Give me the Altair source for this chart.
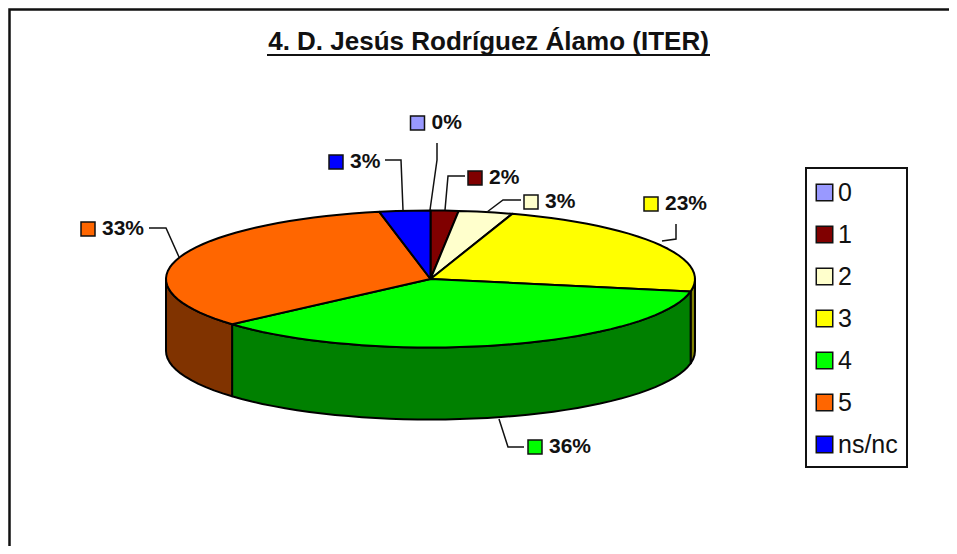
import math
import altair as alt

# ---- chart values ----
categories = ["0", "1", "2", "3", "4", "5", "ns/nc"]
shares = [0.0, 1.7, 3.3, 22.9, 35.6, 33.4, 3.1]
top_colors = ["#9999ff", "#800000", "#ffffcc", "#ffff00", "#00ff00", "#ff6600", "#0000ff"]
wall_colors = ["#4d4d80", "#400000", "#808066", "#808000", "#008000", "#803300", "#000080"]
title_text = "4. D. Jesús Rodríguez Álamo (ITER)"

# ---- layout (page pixels minus the 8px margin) ----
W, H = 941, 538
CX, CY, RX, RY, DEPTH = 422.5, 271.0, 264.5, 68.5, 72.0
FONT = "Liberation Sans"
label_pos = [(409.5, 115), (467, 170), (523, 194), (643, 196), (527, 439), (80, 221), (328, 154)]
leader_paths = [
    [(429, 135), (429, 152), (422, 202)],
    [(457, 168), (440, 168), (437, 202)],
    [(513, 192), (495, 192), (479, 204)],
    [(668, 216), (668, 231), (654, 233)],
    [(516, 439), (500, 439), (491, 411)],
    [(141, 220), (158, 220), (171, 249)],
    [(377, 152), (393, 152), (395, 202)],
]


def ellipse_pt(deg, dy=0.0):
    a = math.radians(deg)
    return [round(CX + RX * math.sin(a), 2), round(CY - RY * math.cos(a) + dy, 2)]


def arc_pts(a0, a1, dy=0.0):
    n = max(1, int(abs(a1 - a0) / 3))
    return [ellipse_pt(a0 + (a1 - a0) * i / n, dy) for i in range(n + 1)]


tops, walls, cum = [], [], 0.0
for cat, share, wall in zip(categories, shares, wall_colors):
    a0 = cum * 3.6
    a1 = (cum + share) * 3.6
    cum += share
    ring = [[CX, CY]] + arc_pts(a0, a1) + [[CX, CY]]
    tops.append({"type": "Feature", "properties": {"cat": cat},
                 "geometry": {"type": "Polygon", "coordinates": [ring]}})
    w0, w1 = max(a0, 90), min(a1, 270)
    if w1 > w0:
        upper = arc_pts(w0, w1)
        lower = arc_pts(w1, w0, DEPTH)
        walls.append((wall, {"type": "Feature", "properties": {"cat": cat},
                             "geometry": {"type": "Polygon", "coordinates": [upper + lower + [upper[0]]]}}))

projection = dict(type="identity", scale=1, translate=[0, 0])
color_scale = alt.Scale(domain=categories, range=top_colors)
legend_spec = alt.Legend(
    title=" ", titleFontSize=1, titlePadding=2,
    orient="none", legendX=798, legendY=160,
    fillColor="white", strokeColor="#111111", padding=9,
    symbolType="square", symbolSize=272, symbolStrokeColor="#111111", symbolStrokeWidth=1.5,
    symbolOffset=-3,
    labelFont=FONT, labelFontSize=25, labelColor="#111111", labelOffset=1,
    rowPadding=16, labelLimit=200,
)

wall_layers = [
    alt.Chart(alt.Data(values=[feature])).mark_geoshape(
        fill=colour, stroke="black", strokeWidth=2, strokeJoin="round"
    ).project(**projection)
    for colour, feature in walls
]

top_layer = alt.Chart(alt.Data(values=tops)).mark_geoshape(
    stroke="black", strokeWidth=2, strokeJoin="round"
).encode(
    fill=alt.Fill("properties.cat:N", scale=color_scale, legend=legend_spec)
).project(**projection)

label_rows = [
    {"cat": c, "text": f"{round(s)}%", "x": p[0], "y": p[1], "tx": p[0] + 14}
    for c, s, p in zip(categories, shares, label_pos)
]
label_data = alt.Data(values=label_rows)
squares = alt.Chart(label_data).mark_square(
    size=196, stroke="#111111", strokeWidth=1.5, opacity=1
).encode(
    x=alt.X("x:Q", scale=None, axis=None),
    y=alt.Y("y:Q", scale=None, axis=None),
    fill=alt.Fill("cat:N", scale=color_scale, legend=legend_spec),
)
texts = alt.Chart(label_data).mark_text(
    font=FONT, fontWeight="bold", fontSize=21, align="left", baseline="middle", color="#111111"
).encode(
    x=alt.X("tx:Q", scale=None, axis=None),
    y=alt.Y("y:Q", scale=None, axis=None),
    text="text:N",
)

leader_rows = [
    {"id": i, "k": k, "x": x, "y": y}
    for i, path in enumerate(leader_paths)
    for k, (x, y) in enumerate(path)
]
leaders = alt.Chart(alt.Data(values=leader_rows)).mark_line(color="#111111", strokeWidth=1.5).encode(
    x=alt.X("x:Q", scale=None, axis=None),
    y=alt.Y("y:Q", scale=None, axis=None),
    detail="id:N",
    order="k:Q",
)

frame_rows = [{"k": 0, "x": 1.5, "y": H}, {"k": 1, "x": 1.5, "y": 1.5}, {"k": 2, "x": W, "y": 1.5}]
frame = alt.Chart(alt.Data(values=frame_rows)).mark_line(color="#111111", strokeWidth=2.5).encode(
    x=alt.X("x:Q", scale=None, axis=None),
    y=alt.Y("y:Q", scale=None, axis=None),
    order="k:Q",
)

underline_rows = [{"k": 0, "x": 259, "y": 47}, {"k": 1, "x": 702, "y": 47}]
underline = alt.Chart(alt.Data(values=underline_rows)).mark_line(color="#111111", strokeWidth=2).encode(
    x=alt.X("x:Q", scale=None, axis=None),
    y=alt.Y("y:Q", scale=None, axis=None),
    order="k:Q",
)

chart = alt.layer(frame, underline, *wall_layers, top_layer, leaders, squares, texts).properties(
    width=W, height=H, padding=0,
    autosize=alt.AutoSizeParams(type="none"),
    background="white",
    title=alt.TitleParams(
        title_text, anchor="middle", dx=10, dy=71, offset=0, orient="top",
        font=FONT, fontSize=26, fontWeight="bold", color="#111111", baseline="alphabetic",
    ),
).configure_view(stroke=None).configure_legend(strokeWidth=2)

chart.save("out.html", embed_options={"renderer": "svg", "actions": False})
